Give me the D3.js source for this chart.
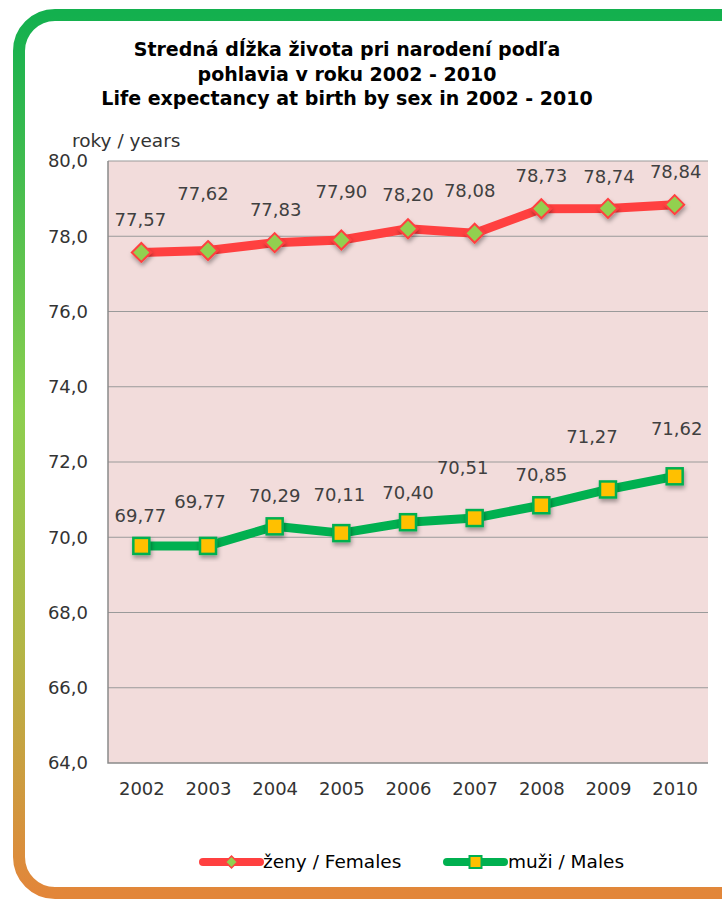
<!DOCTYPE html>
<html>
<head>
<meta charset="utf-8">
<script src="https://cdn.jsdelivr.net/npm/d3@7"></script>
<style>
  body { margin: 0; background: #fff; }
  svg { display: block; font-family: "DejaVu Sans", sans-serif; }
</style>
</head>
<body>
<div id="chart"></div>
<script>
// data
const years = ['2002', '2003', '2004', '2005', '2006', '2007', '2008', '2009', '2010'];
const females = [77.57, 77.62, 77.83, 77.90, 78.20, 78.08, 78.73, 78.74, 78.84];
const males = [69.77, 69.77, 70.29, 70.11, 70.40, 70.51, 70.85, 71.27, 71.62];
const yTicks = [64, 66, 68, 70, 72, 74, 76, 78, 80];

// label offsets (px) as placed in the original
const femaleLabelDx = [-1, -5, 1, 0, 0, -5, 0, 1, 1];
const femaleLabelDy = [-33, -57, -33, -48, -34, -43, -33, -32, -33];
const maleLabelDx = [-1, -8, 0, -2, 0, -12, 0, -16, 2];
const maleLabelDy = [-30, -44, -31, -38, -30, -50, -31, -53, -48];

const W = 722, H = 899;
const plot = { left: 108, right: 708, top: 161, bottom: 763 };

const svg = d3.select('#chart').append('svg')
    .attr('width', W)
    .attr('height', H);

const defs = svg.append('defs');
const grad = defs.append('linearGradient')
    .attr('id', 'frameGrad')
    .attr('x1', 0).attr('y1', 0).attr('x2', 0).attr('y2', 1);
[[0, '#13b04e'], [0.45, '#8ccf4f'], [0.72, '#b3b646'], [1, '#e2863a']].forEach(([o, c]) => {
    grad.append('stop').attr('offset', o).attr('stop-color', c);
});

const shadow = defs.append('filter')
    .attr('id', 'shadow')
    .attr('x', '-50%').attr('y', '-50%').attr('width', '200%').attr('height', '200%');
shadow.append('feDropShadow')
    .attr('dx', 1).attr('dy', 3).attr('stdDeviation', 2)
    .attr('flood-color', '#000').attr('flood-opacity', 0.35);

// Frame
svg.append('rect')
    .attr('x', 19).attr('y', 15)
    .attr('width', 760).attr('height', 878)
    .attr('rx', 36).attr('ry', 36)
    .attr('fill', '#fff')
    .attr('stroke', 'url(#frameGrad)')
    .attr('stroke-width', 12);

// Title
const titleLines = [
    'Stredná dĺžka života pri narodení podľa',
    'pohlavia v roku 2002 - 2010',
    'Life expectancy at birth by sex in 2002 - 2010'
];
svg.append('g').selectAll('text')
    .data(titleLines)
    .join('text')
    .attr('x', 347)
    .attr('y', (d, i) => 56 + i * 24.5)
    .attr('text-anchor', 'middle')
    .attr('font-size', 19)
    .attr('font-weight', 'bold')
    .attr('fill', '#000')
    .text(d => d);

// Scales
const x = d3.scalePoint()
    .domain(years)
    .range([plot.left, plot.right])
    .padding(0.5);

const y = d3.scaleLinear()
    .domain([64, 80])
    .range([plot.bottom, plot.top]);

// Plot background
svg.append('rect')
    .attr('x', plot.left).attr('y', plot.top)
    .attr('width', plot.right - plot.left)
    .attr('height', plot.bottom - plot.top)
    .attr('fill', '#f2dcdb');

// Gridlines
svg.append('g')
    .selectAll('line')
    .data(yTicks.filter(d => d > 64))
    .join('line')
    .attr('x1', plot.left).attr('x2', plot.right)
    .attr('y1', d => y(d)).attr('y2', d => y(d))
    .attr('stroke', '#9a9a9a')
    .attr('stroke-width', 1.2);

// Axes lines
svg.append('path')
    .attr('d', `M${plot.left},${plot.top}V${plot.bottom}H${plot.right}`)
    .attr('fill', 'none')
    .attr('stroke', '#8a8a8a')
    .attr('stroke-width', 1.5);

const fmt = d => d3.format('.1f')(d).replace('.', ',');

const yAxis = svg.append('g')
    .attr('transform', `translate(${plot.left},0)`)
    .call(d3.axisLeft(y).tickValues(yTicks).tickSize(0).tickPadding(20).tickFormat(fmt));
yAxis.select('.domain').remove();
yAxis.selectAll('text')
    .attr('font-size', 18)
    .attr('font-family', '"DejaVu Sans", sans-serif')
    .attr('fill', '#333');

const xAxis = svg.append('g')
    .attr('transform', `translate(0,${plot.bottom})`)
    .call(d3.axisBottom(x).tickSize(0).tickPadding(19));
xAxis.select('.domain').remove();
xAxis.selectAll('text')
    .attr('font-size', 18)
    .attr('font-family', '"DejaVu Sans", sans-serif')
    .attr('fill', '#333');

// Axis unit
svg.append('text')
    .attr('x', 72).attr('y', 147)
    .attr('font-size', 18.5)
    .attr('fill', '#333')
    .text('roky / years');

// Lines
const line = d3.line()
    .x((d, i) => x(years[i]))
    .y(d => y(d));

svg.append('path')
    .datum(females)
    .attr('d', line)
    .attr('fill', 'none')
    .attr('stroke', '#ff4040')
    .attr('stroke-width', 9)
    .attr('stroke-linejoin', 'round');

svg.append('path')
    .datum(males)
    .attr('d', line)
    .attr('fill', 'none')
    .attr('stroke', '#00b050')
    .attr('stroke-width', 9)
    .attr('stroke-linejoin', 'round');

// Markers
const diamond = s => `M0,${-s}L${s},0L0,${s}L${-s},0Z`;

svg.append('g')
    .selectAll('path')
    .data(females)
    .join('path')
    .attr('transform', (d, i) => `translate(${x(years[i])},${y(d)})`)
    .attr('d', diamond(9.5))
    .attr('fill', '#92d050')
    .attr('stroke', '#ff4040')
    .attr('stroke-width', 2)
    .attr('filter', 'url(#shadow)');

svg.append('g')
    .selectAll('rect')
    .data(males)
    .join('rect')
    .attr('x', (d, i) => x(years[i]) - 8)
    .attr('y', d => y(d) - 8)
    .attr('width', 16).attr('height', 16)
    .attr('fill', '#ffc000')
    .attr('stroke', '#00b050')
    .attr('stroke-width', 2.5)
    .attr('filter', 'url(#shadow)');

// Data labels
svg.append('g')
    .selectAll('text')
    .data(females)
    .join('text')
    .attr('x', (d, i) => x(years[i]) + femaleLabelDx[i])
    .attr('y', (d, i) => y(d) + femaleLabelDy[i])
    .attr('dy', '0.35em')
    .attr('text-anchor', 'middle')
    .attr('font-size', 18)
    .attr('fill', '#404040')
    .text(d => d3.format('.2f')(d).replace('.', ','));

svg.append('g')
    .selectAll('text')
    .data(males)
    .join('text')
    .attr('x', (d, i) => x(years[i]) + maleLabelDx[i])
    .attr('y', (d, i) => y(d) + maleLabelDy[i])
    .attr('dy', '0.35em')
    .attr('text-anchor', 'middle')
    .attr('font-size', 18)
    .attr('fill', '#404040')
    .text(d => d3.format('.2f')(d).replace('.', ','));

// Legend
const legend = svg.append('g').attr('transform', 'translate(0,862)');

const lf = legend.append('g').attr('transform', 'translate(203,0)');
lf.append('line').attr('x1', 0).attr('x2', 57)
    .attr('stroke', '#ff4040').attr('stroke-width', 8).attr('stroke-linecap', 'round');
lf.append('path').attr('transform', 'translate(28.5,0)').attr('d', diamond(6))
    .attr('fill', '#92d050').attr('stroke', '#ff4040').attr('stroke-width', 1.5);
lf.append('text').attr('x', 60).attr('dy', '0.35em')
    .attr('font-size', 18.5).attr('fill', '#000').text('ženy / Females');

const lm = legend.append('g').attr('transform', 'translate(447,0)');
lm.append('line').attr('x1', 0).attr('x2', 57)
    .attr('stroke', '#00b050').attr('stroke-width', 8).attr('stroke-linecap', 'round');
lm.append('rect').attr('x', 22.5).attr('y', -6).attr('width', 12).attr('height', 12)
    .attr('fill', '#ffc000').attr('stroke', '#00b050').attr('stroke-width', 2);
lm.append('text').attr('x', 61).attr('dy', '0.35em')
    .attr('font-size', 18.5).attr('fill', '#000').text('muži / Males');
</script>
</body>
</html>
